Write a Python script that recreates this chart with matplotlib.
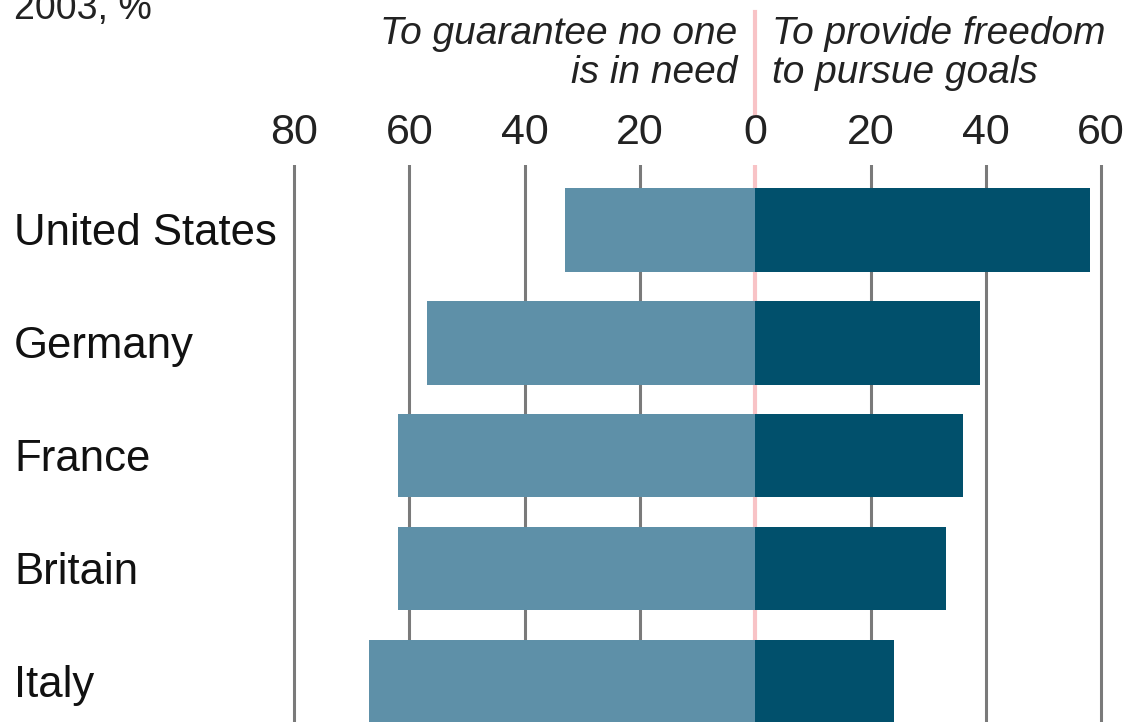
import matplotlib
matplotlib.use("Agg")
import matplotlib.pyplot as plt
import matplotlib.transforms as mtransforms

#### DATA
countries = ["United States", "Germany", "France", "Britain", "Italy"]
no_one_in_need = [33, 57, 62, 62, 67]      # left side
freedom_goals = [58, 39, 36, 33, 24]       # right side
tick_values = [-80, -60, -40, -20, 0, 20, 40, 60]
tick_labels = ["80", "60", "40", "20", "0", "20", "40", "60"]

#### STYLE
LIGHT = "#5e90a8"
DARK = "#01506c"
PINK = "#f8c3c6"
GRID = "#7a7a7a"
plt.rcParams['font.family'] = ['Liberation Sans', 'DejaVu Sans']

fig = plt.figure(figsize=(11.3, 7.22), dpi=100)
W, H = 1130, 722
ax = fig.add_axes([0, 0, 1, 1 - 165 / H])

ax.set_xlim(-131.0, 65.0)
ax.set_ylim(4.36, -0.575)

ypos = list(range(len(countries)))
for v in [-80, -60, -40, -20, 20, 40, 60]:
    ax.axvline(v, color=GRID, lw=2.2, zorder=1)
ax.axvline(0, color=PINK, lw=3, zorder=1)

ax.barh(ypos, [-v for v in no_one_in_need], height=0.74, color=LIGHT, zorder=2)
ax.barh(ypos, freedom_goals, height=0.74, color=DARK, zorder=2)

ax.xaxis.tick_top()
ax.set_xticks(tick_values)
ax.set_xticklabels(tick_labels, fontsize=31, color="#222222")
ax.tick_params(axis='x', length=0, pad=9)
ax.set_yticks([])
for s in ax.spines.values():
    s.set_visible(False)

# country names on the left edge
trans = mtransforms.blended_transform_factory(fig.transFigure, ax.transData)
for y, name in zip(ypos, countries):
    ax.text(14 / W, y + 0.135, name, transform=trans, fontsize=31.5,
            ha='left', va='baseline', color="#111111")

# header
fig.text(14 / W, 1 - 19 / H, "2003, %", fontsize=27, ha='left', va='baseline', color="#222222")
fig.text(737 / W, 1 - 44 / H, "To guarantee no one", fontsize=28, style='italic',
         ha='right', va='baseline', color="#222222")
fig.text(737 / W, 1 - 83 / H, "is in need", fontsize=28, style='italic',
         ha='right', va='baseline', color="#222222")
fig.text(772 / W, 1 - 44 / H, "To provide freedom", fontsize=28, style='italic',
         ha='left', va='baseline', color="#222222")
fig.text(772 / W, 1 - 83 / H, "to pursue goals", fontsize=28, style='italic',
         ha='left', va='baseline', color="#222222")
fig.add_artist(plt.Line2D([755 / W, 755 / W], [1 - 12 / H, 1 - 113 / H],
                          color=PINK, lw=3, transform=fig.transFigure))

fig.savefig("out.png", dpi=100)
